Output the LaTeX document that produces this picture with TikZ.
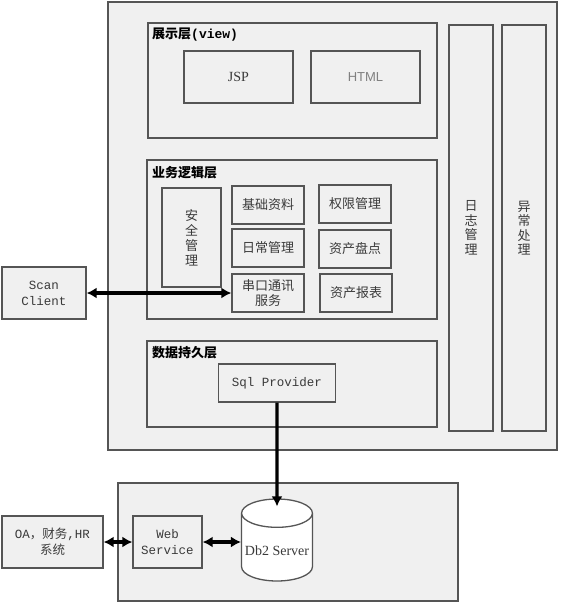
\documentclass[tikz,border=0pt]{standalone}
\usepackage{fontspec}
\setmainfont{Liberation Serif}
\setsansfont{Liberation Sans}
\setmonofont{Liberation Mono}
\newfontfamily\cjk{Noto Sans CJK SC}
\usetikzlibrary{shapes.geometric,arrows.meta}

\definecolor{boxline}{HTML}{555555}
\definecolor{boxfill}{HTML}{F0F0F0}
\definecolor{txtdark}{HTML}{3A3A3A}

\begin{document}
\begin{tikzpicture}[x=1pt,y=-1pt,
    box/.style = {draw=boxline, fill=boxfill, line width=1.3pt, inner sep=2pt},
    modbox/.style = {box, minimum width=72, minimum height=38, align=center,
        text=txtdark, font=\cjk\fontsize{13}{15}\selectfont},
    title/.style = {anchor=west, inner sep=0pt, font=\bfseries\fontsize{13}{15}\selectfont},
    dlink/.style = {line width=3.2pt, {Latex[length=10pt,width=11pt]}-{Latex[length=10pt,width=11pt]}},
    link/.style = {line width=3.2pt, -{Latex[length=10pt,width=11pt]}}
  ]
  \useasboundingbox (0,0) rectangle (560,604);

  % application server with its layers
  \node[box, minimum width=449, minimum height=448] (server) at (332.5,226) {};

  \node[box, minimum width=289, minimum height=115] (view) at (292.5,80.5) {};
  \node[title] (viewtitle) at (152,35) {{\cjk 展示层}{\ttfamily (view)}};
  \node[box, minimum width=109, minimum height=52, text=txtdark,
    font=\fontsize{14}{16}\selectfont] (jsp) at (238.5,77) {JSP};
  \node[box, minimum width=109, minimum height=52, text=gray,
    font=\sffamily\fontsize{13}{15}\selectfont] (html) at (365.5,77) {HTML};

  \node[box, minimum width=290, minimum height=159] (biz) at (292,239.5) {};
  \node[title] (biztitle) at (152,173) {\cjk 业务逻辑层};
  \node[modbox, minimum width=59, minimum height=99] (sec) at (191.5,237.5) {安\\全\\管\\理};
  \foreach \name/\txt/\x/\y in {base/{基础资料}/268/205, daily/{日常管理}/268/248,
      com/{串口通讯\\服务}/268/293, auth/{权限管理}/355/204, stock/{资产盘点}/355/249,
      report/{资产报表}/356/293}{ % loop over modules
      \node[modbox] (\name) at (\x,\y) {\txt};
    }

  \node[box, minimum width=290, minimum height=86] (data) at (292,384) {};
  \node[title] (datatitle) at (152,353) {\cjk 数据持久层};
  \node[box, minimum width=117, minimum height=38, text=txtdark,
    font=\ttfamily\fontsize{12.5}{15}\selectfont] (sql) at (277,383) {Sql Provider};

  \foreach \name/\txt/\x in {log/{日\\志\\管\\理}/471, exc/{异\\常\\处\\理}/524}{ % side columns
      \node[box, minimum width=44, minimum height=406, align=center, text=txtdark,
        font=\cjk\fontsize{13}{14.5}\selectfont] (\name) at (\x,228) {\txt};
    }

  % clients and database host
  \node[box, minimum width=84, minimum height=52, align=center, text=txtdark,
    font=\ttfamily\fontsize{12.5}{16}\selectfont] (scan) at (44,293) {Scan\\Client};

  \node[box, minimum width=340, minimum height=118] (dbhost) at (288,542) {};
  \node[box, minimum width=101, minimum height=52, align=center, text=txtdark,
    font=\ttfamily\fontsize{12.5}{16}\selectfont] (oa) at (52.5,542)
    {OA{\cjk ，财务}{,HR}\\{\cjk 系统}};
  \node[box, minimum width=69, minimum height=52, align=center, text=txtdark,
    font=\ttfamily\fontsize{12.5}{16}\selectfont] (web) at (167.5,542) {Web\\Service};
  \node[cylinder, shape border rotate=90, aspect=0.4, draw=boxline, fill=white,
    line width=1.3pt, minimum width=70, minimum height=82, text=txtdark, anchor=shape center,
    font=\fontsize{14}{16}\selectfont] (db2) at (277,540) {Db2 Server};

  \draw[dlink] (scan) -- (com);
  \draw[link] (sql) -- ([yshift=-8pt]db2.north);
  \draw[dlink] (oa) -- (web);
  \draw[dlink] (web) -- (web -| db2.west);

\end{tikzpicture}
\end{document}
